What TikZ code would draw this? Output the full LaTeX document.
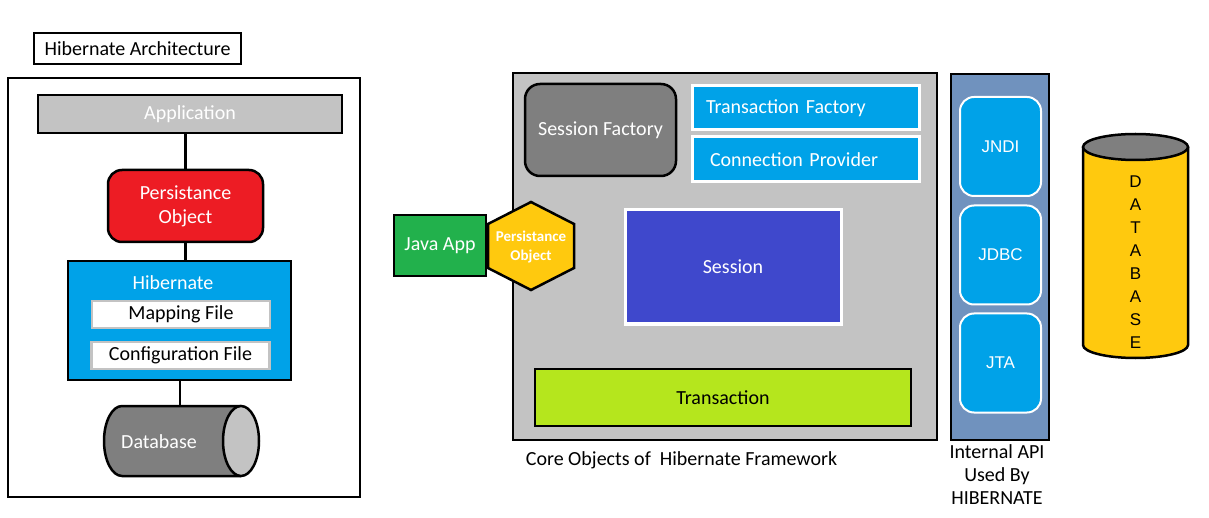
\documentclass[tikz,border=0pt]{standalone}
\usepackage{fontspec}
\setmainfont{Carlito}
\newfontfamily\arialfont{Liberation Sans}

\definecolor{appgray}{HTML}{C3C3C3}
\definecolor{persred}{HTML}{ED1C24}
\definecolor{hibblue}{HTML}{00A2E8}
\definecolor{dbgray}{HTML}{7F7F7F}
\definecolor{sessblue}{HTML}{3F48CC}
\definecolor{tgreen}{HTML}{B5E61D}
\definecolor{jgreen}{HTML}{22B14C}
\definecolor{hexyellow}{HTML}{FFC90E}
\definecolor{apiblue}{HTML}{7092BE}

\tikzset{
    every node/.style={font=\fontsize{20}{24}\selectfont},
    blackbox/.style={draw, line width=2.5pt},
    filebox/.style={draw=appgray, line width=2.5pt, fill=white, minimum width=178pt, minimum height=27pt},
    whitebox/.style={draw=white, line width=3pt, fill=hibblue, text=white},
    apibox/.style={draw=white, line width=2pt, fill=hibblue, text=white, rounded corners=14pt,
        minimum width=81pt, minimum height=99pt, font=\arialfont\fontsize{17}{20}\selectfont}
}

\begin{document}
\begin{tikzpicture}[x=1pt, y=-1pt]
\useasboundingbox (0,0) rectangle (1209,518);

% left part
\node[blackbox, line width=2pt, minimum width=207pt, minimum height=31pt] (title) at (137.5,48.5) {Hibernate Architecture};
\node[blackbox, minimum width=352pt, minimum height=419pt] (leftframe) at (184,287.5) {};

\node[blackbox, fill=appgray, text=white, minimum width=304pt, minimum height=38pt] (app) at (190,114) {Application};
\node[blackbox, fill=persred, text=white, rounded corners=14pt, minimum width=155pt, minimum height=72pt, align=center] (persist) at (185.5,206) {Persistance\\Object};
\node[blackbox, fill=hibblue, minimum width=223pt, minimum height=119pt] (hib) at (179.5,320.5) {};
    \node[text=white] (hibtxt) at (173,283) {Hibernate};
    \node[filebox] (mapfile) at (181,314.5) {Mapping File};
    \node[filebox] (conffile) at (180.5,355.5) {Configuration File};

% database cylinder
\filldraw[line width=2.5pt, fill=dbgray] (241,406) -- (122,406) arc[start angle=90, end angle=270, x radius=18pt, y radius=35pt] -- (241,476);
\filldraw[line width=2.5pt, fill=appgray] (241,441) ellipse[x radius=18pt, y radius=35pt];
\coordinate (dbtop) at (180,406);
\node[text=white] (db) at (159,442) {Database};

\draw[line width=2.5pt] (persist.north) -- (persist.north |- app.south)
      (persist.south) -- (persist.south |- hib.north)
      (dbtop |- hib.south) -- (dbtop);

% core objects
\node[blackbox, fill=appgray, minimum width=424pt, minimum height=367pt] (core) at (725,256.5) {};
\node[blackbox, fill=dbgray, text=white, rounded corners=15pt, minimum width=151pt, minimum height=92pt] (sfactory) at (600.5,130) {Session Factory};
\node[whitebox, inner xsep=14pt, text width=199pt, minimum height=44pt, align=left] (tfactory) at (805.5,108) {Transaction Factory};
\node[whitebox, inner xsep=18pt, text width=191pt, minimum height=45pt, align=left] (cprovider) at (805.5,159.5) {Connection Provider};
\node[whitebox, fill=sessblue, minimum width=216pt, minimum height=114pt] (session) at (733,267) {Session};
\node[blackbox, fill=tgreen, minimum width=376pt, minimum height=57pt] (trans) at (723,397.5) {Transaction};

\node[blackbox, fill=jgreen, text=white, minimum width=92pt, minimum height=61pt] (javaapp) at (440,245.5) {Java App};
\draw[line width=2.5pt, fill=hexyellow] (531,202) -- (574,224) -- (574,268) -- (531,290) -- (488,268) -- (488,224) -- cycle;
\node[text=white, font=\bfseries\fontsize{15}{19}\selectfont, align=center] (hexpo) at (531,247) {Persistance\\Object};

\node (coretxt) at (681.5,460) {Core Objects of\ \ Hibernate Framework};

% internal api
\node[blackbox, fill=apiblue, minimum width=98pt, minimum height=366pt] (api) at (1000,257) {};
    \node[apibox] (jndi) at (1000.5,146.5) {JNDI};
    \node[apibox] (jdbc) at (1000.5,255) {JDBC};
    \node[apibox] (jta) at (1000.5,363) {JTA};
\node[align=center, font=\fontsize{20}{23}\selectfont] (apitxt) at (997,475) {Internal API\\Used By\\HIBERNATE};

% database
\filldraw[line width=2.5pt, fill=hexyellow] (1083,147) -- (1083,345) arc[start angle=180, end angle=360, x radius=52.5pt, y radius=13pt] -- (1188,147);
\filldraw[line width=2.5pt, fill=dbgray] (1135.5,147) ellipse[x radius=52.5pt, y radius=13pt];
\node[align=center, font=\arialfont\fontsize{17}{23}\selectfont] (dbtxt) at (1135.5,262) {D\\A\\T\\A\\B\\A\\S\\E};

\end{tikzpicture}
\end{document}
